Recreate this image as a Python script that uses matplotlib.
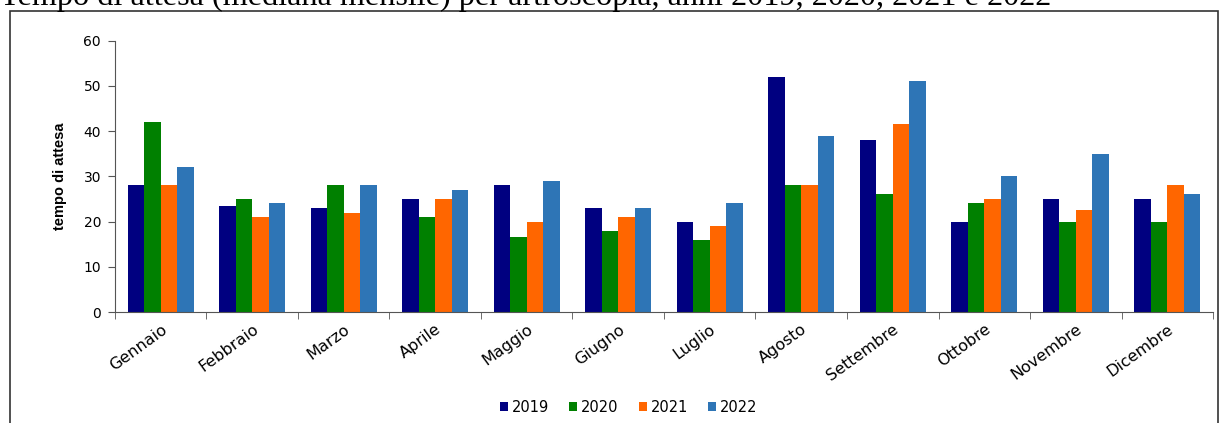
import matplotlib
matplotlib.use("Agg")
import matplotlib.pyplot as plt
import numpy as np
from matplotlib.patches import Rectangle

mesi = ["Gennaio", "Febbraio", "Marzo", "Aprile", "Maggio", "Giugno", "Luglio",
        "Agosto", "Settembre", "Ottobre", "Novembre", "Dicembre"]
anni = ["2019", "2020", "2021", "2022"]
v2019 = [28, 23.5, 23, 25, 28, 23, 20, 52, 38, 20, 25, 25]
v2020 = [42, 25, 28, 21, 16.5, 18, 16, 28, 26, 24, 20, 20]
v2021 = [28, 21, 22, 25, 20, 21, 19, 28, 41.5, 25, 22.5, 28]
v2022 = [32, 24, 28, 27, 29, 23, 24, 39, 51, 30, 35, 26]
colori = ["#000080", "#008000", "#FF6600", "#2E75B6"]

fig = plt.figure(figsize=(12.27, 4.23), dpi=100)
ax = fig.add_axes([0.0937, 0.2624, 0.8949, 0.6414])

x = np.arange(len(mesi))
w = 0.18
for k, (serie, c, lab) in enumerate(zip([v2019, v2020, v2021, v2022], colori, anni)):
    ax.bar(x + (k - 1.5) * w, serie, width=w, color=c, label=lab, linewidth=0)

ax.set_xlim(-0.5, len(mesi) - 0.5)
ax.set_ylim(0, 60)
ax.set_yticks(range(0, 61, 10))
ax.set_xticks(x)
ax.set_xticklabels(mesi, rotation=36, ha="right", rotation_mode="anchor",
                   fontsize=11.5, family="DejaVu Sans")
ax.set_xticks(np.arange(-0.5, len(mesi)), minor=True)
ax.tick_params(axis="x", which="major", length=0, pad=7)
ax.tick_params(axis="x", which="minor", length=5, color="#555555")
ax.tick_params(axis="y", length=5, color="#555555", labelsize=10, pad=5)
for t in ax.get_yticklabels():
    t.set_family("DejaVu Sans")
for s in ["top", "right"]:
    ax.spines[s].set_visible(False)
ax.spines["left"].set_color("#555555")
ax.spines["bottom"].set_color("#555555")
ax.set_ylabel("tempo di attesa", fontsize=10.5, fontweight="bold",
              family="Liberation Sans", labelpad=12)

ax.legend(loc="center", bbox_to_anchor=(0.5125, 0.0375), bbox_transform=fig.transFigure,
          ncol=4, frameon=False, handlelength=0.55, handleheight=0.55,
          handletextpad=0.25, columnspacing=1.4, prop={"family": "DejaVu Sans", "size": 10.5})

fig.patches.append(Rectangle((10 / 1227, -0.05), 1208 / 1227, 1.05 - 11 / 423,
                             transform=fig.transFigure, fill=False,
                             edgecolor="#333333", linewidth=1.2))
fig.text(0.0, 1 - 5 / 423, "Tempo di attesa (mediana mensile) per artroscopia, anni 2019, 2020, 2021 e 2022",
         family="Liberation Serif", fontsize=23.2, ha="left", va="baseline")

fig.savefig("out.png", dpi=100)
